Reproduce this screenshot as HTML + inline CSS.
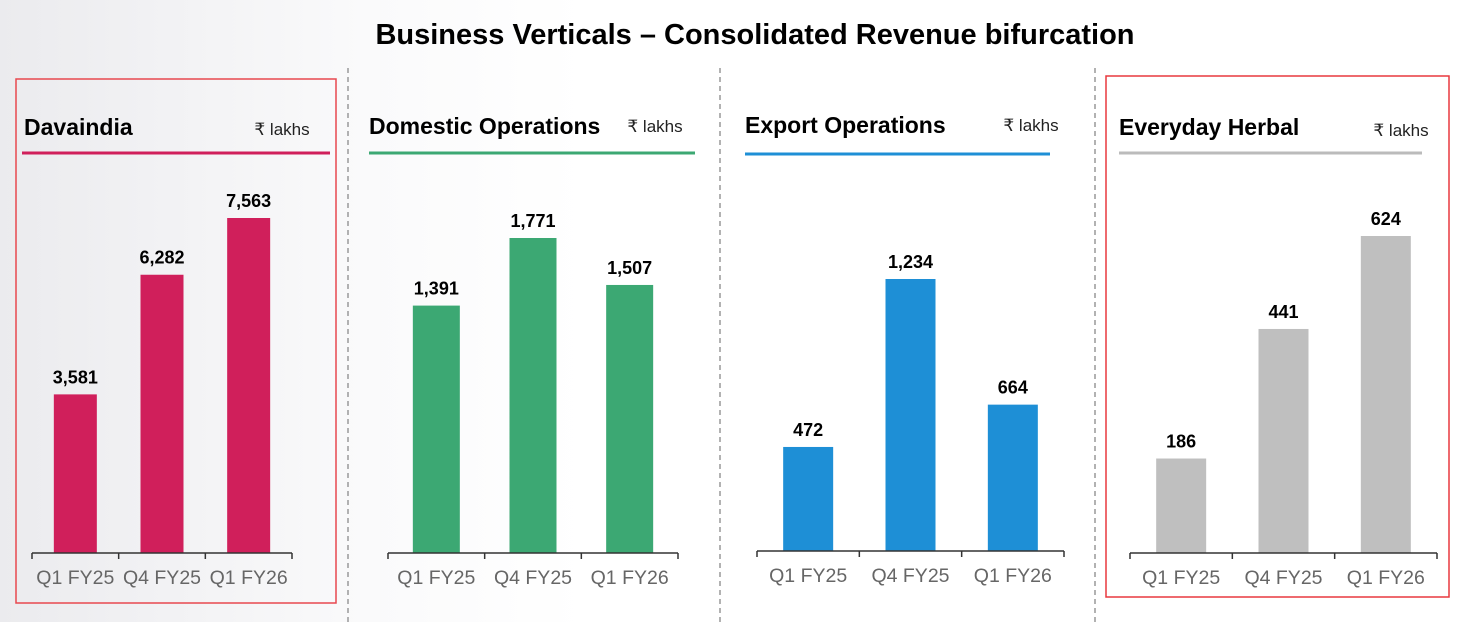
<!DOCTYPE html>
<html><head><meta charset="utf-8"><style>
html,body{margin:0;padding:0;width:1462px;height:622px;overflow:hidden;background:#fff}
svg{display:block;font-family:"Liberation Sans",Arial,sans-serif}
</style></head><body>
<svg id="chart" width="1462" height="622" viewBox="0 0 1462 622">
<defs><linearGradient id="bg" x1="0" x2="1" y1="0" y2="0"><stop offset="0" stop-color="#ebebee"/><stop offset="0.25" stop-color="#fafafb"/><stop offset="0.4" stop-color="#ffffff"/></linearGradient></defs>
<rect x="0" y="0" width="1462" height="622" fill="url(#bg)"/>
<text x="755" y="44" text-anchor="middle" font-size="29" font-weight="bold" fill="#000">Business Verticals – Consolidated Revenue bifurcation</text>
<rect x="16" y="79" width="320" height="524" fill="none" stroke="#e8484f" stroke-width="1.5"/>
<rect x="1106" y="76" width="343" height="521" fill="none" stroke="#e8383f" stroke-width="1.5"/>
<line x1="348" y1="68" x2="348" y2="622" stroke="#999" stroke-width="1.5" stroke-dasharray="5,4"/>
<line x1="720" y1="68" x2="720" y2="622" stroke="#999" stroke-width="1.5" stroke-dasharray="5,4"/>
<line x1="1095" y1="68" x2="1095" y2="622" stroke="#999" stroke-width="1.5" stroke-dasharray="5,4"/>
<g id="panels"></g>
</svg>
<script>
const categories = ["Q1 FY25", "Q4 FY25", "Q1 FY26"];
const davaindiaValues = [3581, 6282, 7563];
const domesticValues = [1391, 1771, 1507];
const exportValues = [472, 1234, 664];
const herbalValues = [186, 441, 624];
const panelTitles = ["Davaindia", "Domestic Operations", "Export Operations", "Everyday Herbal"];

const NS = "http://www.w3.org/2000/svg";
const root = document.getElementById("panels");
function mk(tag, attrs, parent) {
  const el = document.createElementNS(NS, tag);
  for (const k in attrs) el.setAttribute(k, attrs[k]);
  parent.appendChild(el);
  return el;
}
const layouts = [
  {vals: davaindiaValues, color: "#d01f5b", ax0: 32, ax1: 292, axisY: 553, barW: 43, maxPx: 335, titleX: 24, titleY: 135, ulY: 153, ul0: 22, ul1: 330, ulC: "#d01f5b", unitX: 282, unitY: 135, slug: "davaindia"},
  {vals: domesticValues, color: "#3ca873", ax0: 388, ax1: 678, axisY: 553, barW: 47, maxPx: 315, titleX: 369, titleY: 134, ulY: 153, ul0: 369, ul1: 695, ulC: "#3ca873", unitX: 655, unitY: 132, slug: "domestic"},
  {vals: exportValues, color: "#1e8fd6", ax0: 757, ax1: 1064, axisY: 551, barW: 50, maxPx: 272, titleX: 745, titleY: 133, ulY: 154, ul0: 745, ul1: 1050, ulC: "#1e8fd6", unitX: 1031, unitY: 131, slug: "export"},
  {vals: herbalValues, color: "#bfbfbf", ax0: 1130, ax1: 1437, axisY: 553, barW: 50, maxPx: 317, titleX: 1119, titleY: 135, ulY: 153, ul0: 1119, ul1: 1422, ulC: "#bbbbbb", unitX: 1401, unitY: 136, slug: "herbal"}
];
layouts.forEach((L, p) => {
  const g = mk("g", {}, root);
  
  
  const t = mk("text", {x: L.titleX, y: L.titleY, "font-size": 23, "font-weight": "bold", fill: "#000"}, g);
  t.textContent = panelTitles[p];
  
  
  const u = mk("text", {x: L.unitX, y: L.unitY, "font-size": 17, fill: "#222", "text-anchor": "middle"}, g);
  u.textContent = "₹ lakhs";
  
  
  const ul = mk("line", {x1: L.ul0, x2: L.ul1, y1: L.ulY, y2: L.ulY, stroke: L.ulC, "stroke-width": 3}, g);
  
  
  const maxV = Math.max(...L.vals);
  const yScale = v => L.axisY - v / maxV * L.maxPx;
  const band = (L.ax1 - L.ax0) / categories.length;
  const xCenter = i => L.ax0 + band * (i + 0.5);
  L.vals.forEach((v, i) => {
    const top = yScale(v);
    const b = mk("rect", {x: xCenter(i) - L.barW / 2, y: top, width: L.barW, height: L.axisY - top, fill: L.color}, g);
    
    
    const vl = mk("text", {x: xCenter(i), y: top - 11, "font-size": 18, "font-weight": "bold", fill: "#000", "text-anchor": "middle"}, g);
    vl.textContent = v.toLocaleString("en-US");
    
    
    const cl = mk("text", {x: xCenter(i), y: L.axisY + 31, "font-size": 19.5, fill: "#666", "text-anchor": "middle"}, g);
    cl.textContent = categories[i];
    
    
  });
  const ax = mk("line", {x1: L.ax0, x2: L.ax1, y1: L.axisY, y2: L.axisY, stroke: "#333", "stroke-width": 1.5}, g);
  
  
  for (let i = 0; i <= categories.length; i++) {
    const x = L.ax0 + band * i;
    const tk = mk("line", {x1: x, x2: x, y1: L.axisY, y2: L.axisY + 6, stroke: "#333", "stroke-width": 1.5}, g);
    
    
  }
});
</script>
</body></html>
